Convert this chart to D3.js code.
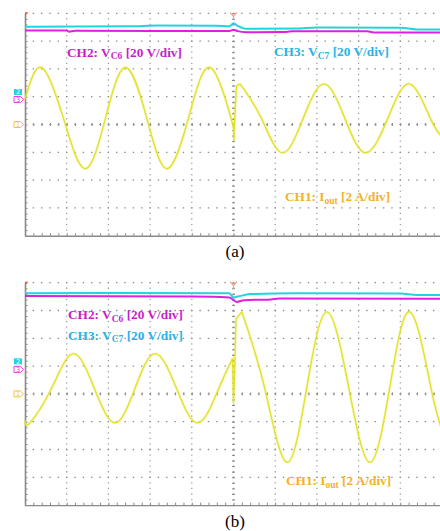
<!DOCTYPE html>
<html lang="en">
  <head>
    <meta charset="UTF-8" />
    <title>Scope captures (a) and (b)</title>
    <script src="https://d3js.org/d3.v7.min.js"></script>
    <style>
      body { margin: 0; background: #fff; }
      svg { display: block; }
      .lbl { font-family: "Liberation Serif", "Times New Roman", serif; font-weight: bold; font-size: 13.3px; }
      .cap { font-family: "Liberation Serif", "Times New Roman", serif; font-size: 17px; }
      .ax path, .ax line { stroke: #8a8a8a; }
      .ax text { display: none; }
    </style>
  </head>
  <body>
    <div id="chart"></div>
    <script>
      // all traces in scope divisions: t = 0..10 (time), v = -4..4 (centre = 0)
      // panel (a) - CH1 current, before / after the step at t = 5
      const aIoutPre = [[0, 0.92], [0.4, 2.05], [0.92, 0.23], [1.44, -1.59], [1.93, 0.23], [2.41, 2.05],
        [2.92, 0.23], [3.4, -1.59], [3.92, 0.23], [4.44, 2.05], [4.94, 0.23], [5.0, -0.05]];
      const aIoutJump = [[5.0, -0.05], [5.01, -0.58], [5.03, 0.2], [5.07, 1.38], [5.16, 1.46]];
      const aIoutPost = [[5.16, 1.46], [5.67, 0.22], [6.17, -1.02], [6.67, 0.22], [7.17, 1.46],
        [7.67, 0.22], [8.17, -1.02], [8.7, 0.22], [9.22, 1.46], [9.72, 0.22], [10, -0.45]];
      const aVc7 = [[0, 3.52], [2.5, 3.53], [3.2, 3.56], [4.6, 3.55], [4.9, 3.53], [5.0, 3.64], [5.1, 3.55],
        [5.3, 3.44], [6.5, 3.45], [7.0, 3.49], [9.0, 3.48], [9.4, 3.42], [10, 3.42]];
      const aVc6 = [[0, 3.38], [1.0, 3.38], [1.05, 3.34], [1.2, 3.37], [4.9, 3.36], [5.0, 3.41], [5.1, 3.36],
        [5.3, 3.32], [6.2, 3.33], [6.4, 3.35], [8.2, 3.35], [8.4, 3.31], [10, 3.31]];
      const aMarks = { ch2: 1.17, ch3: 0.9, ch1: 0 };

      // panel (b)
      const bIoutPre = [[0, -0.95], [0.12, -1.04], [0.64, 0.21], [1.16, 1.45], [1.66, 0.21], [2.16, -1.04],
        [2.64, 0.21], [3.12, 1.45], [3.63, 0.21], [4.15, -1.04], [4.65, 0.21], [4.98, 1.28]];
      const bIoutJump = [[4.98, 1.28], [5.0, -0.34], [5.02, 0.4], [5.06, 2.7], [5.2, 2.95]];
      const bIoutPost = [[5.2, 2.95], [5.74, 0.25], [6.28, -2.46], [6.76, 0.25], [7.24, 2.95],
        [7.76, 0.25], [8.27, -2.46], [8.75, 0.25], [9.23, 2.95], [9.73, 0.25], [10, -1.3]];
      const bVc7 = [[0, 3.62], [2.0, 3.63], [4.9, 3.62], [5.0, 3.47], [5.1, 3.5], [5.4, 3.59],
        [6.5, 3.62], [9.0, 3.61], [9.4, 3.56], [10, 3.56]];
      const bVc6 = [[0, 3.52], [4.0, 3.5], [4.9, 3.47], [5.08, 3.31], [5.25, 3.37], [5.9, 3.4],
        [6.1, 3.43], [10, 3.42]];
      const bMarks = { ch2: 1.17, ch3: 0.88, ch1: 0 };

      const W = 440, H = 531;
      const divW = 41.7, divH = 27.8;
      const colYellow = "#e2e22a", colCyan = "#22d4dc", colMag = "#e020e0";

      const svg = d3.select("#chart").append("svg").attr("width", W).attr("height", H);

      function drawPanel(top, d) {
        const x = d3.scaleLinear().domain([0, 10]).range([25, 25 + 10 * divW]);
        const y = d3.scaleLinear().domain([-4, 4]).range([top + 8 * divH, top]);
        const g = svg.append("g");

        // dotted grid
        d3.range(1, 10).forEach((i) => {
          g.append("line").attr("x1", x(i)).attr("x2", x(i)).attr("y1", y(4)).attr("y2", y(-4))
            .attr("stroke", "#9a9a9a").attr("stroke-width", 1.2)
            .attr("stroke-dasharray", `1.3 ${divH / 5 - 1.3}`).attr("stroke-dashoffset", 0.65);
        });
        d3.range(-3, 5).forEach((j) => {
          g.append("line").attr("x1", x(0)).attr("x2", x(10)).attr("y1", y(j)).attr("y2", y(j))
            .attr("stroke", "#8a8a8a").attr("stroke-width", 1.3)
            .attr("stroke-dasharray", `1.4 ${divW / 5 - 1.4}`).attr("stroke-dashoffset", -divW / 5 + 0.7);
        });

        const minor = (lo, hi) => d3.range(lo, hi + 0.001, 0.2);
        // centre cross ticks
        g.append("g").attr("class", "ax").attr("transform", `translate(0,${y(0) - 1.5})`)
          .call(d3.axisBottom(x).tickValues(minor(0, 10)).tickSize(3).tickFormat(""))
          .call((s) => s.select(".domain").remove());
        g.append("g").attr("class", "ax").attr("transform", `translate(${x(5) + 1.5},0)`)
          .call(d3.axisLeft(y).tickValues(minor(-4, 4)).tickSize(3).tickFormat(""))
          .call((s) => s.select(".domain").remove());
        // left and bottom frame with minor ticks
        g.append("g").attr("class", "ax").attr("transform", `translate(${x(0)},0)`)
          .call(d3.axisLeft(y).tickValues(minor(-4, 4)).tickSize(-2.5).tickSizeOuter(0).tickFormat(""))
          .call((s) => s.select(".domain").attr("stroke-width", 1.6));
        g.append("g").attr("class", "ax").attr("transform", `translate(0,${y(-4)})`)
          .call(d3.axisBottom(x).tickValues(minor(0, 10)).tickSize(-2.5).tickSizeOuter(0).tickFormat(""))
          .call((s) => s.select(".domain").attr("stroke-width", 1.4));

        const line = (curve) => d3.line().x((p) => x(p[0])).y((p) => y(p[1])).curve(curve);

        // voltage traces
        g.append("path").attr("d", line(d3.curveMonotoneX)(d.vc6)).attr("fill", "none")
          .attr("stroke", colMag).attr("stroke-width", 2);
        g.append("path").attr("d", line(d3.curveMonotoneX)(d.vc7)).attr("fill", "none")
          .attr("stroke", colCyan).attr("stroke-width", 2);

        // current trace
        [[d.pre, d3.curveNatural], [d.jump, d3.curveLinear], [d.post, d3.curveNatural]].forEach(([pts, c]) => {
          g.append("path").attr("d", line(c)(pts)).attr("fill", "none")
            .attr("stroke", colYellow).attr("stroke-opacity", 0.2).attr("stroke-width", 3);
          g.append("path").attr("d", line(c)(pts)).attr("fill", "none")
            .attr("stroke", colYellow).attr("stroke-width", 1.4);
        });

        // channel markers on the left
        const tag = (v, col, num, filled) => {
          const cy = y(v);
          const m = g.append("g").attr("transform", `translate(14,${cy})`);
          if (filled) {
            m.append("rect").attr("x", 0).attr("y", -3).attr("width", 8).attr("height", 6).attr("fill", col);
            m.append("text").attr("x", 4).attr("y", 2.4).attr("text-anchor", "middle").attr("font-size", 6.5)
              .attr("font-family", "DejaVu Sans").attr("fill", "#fff").text(num);
          } else {
            m.append("path").attr("d", "M0,-3H6.5L9.5,0L6.5,3H0Z").attr("fill", "none")
              .attr("stroke", col).attr("stroke-width", 1);
            m.append("text").attr("x", 4).attr("y", 2.4).attr("text-anchor", "middle").attr("font-size", 6.5)
              .attr("font-family", "DejaVu Sans").attr("fill", col).text(num);
          }
        };
        tag(d.marks.ch2, colCyan, "2", true);
        tag(d.marks.ch3, "#ea3cea", "3", false);
        tag(d.marks.ch1, "#f2c438", "1", false);

        // trigger position marker and corner mark
        g.append("path").attr("d", `M${x(5) - 3.5},${top - 1}L${x(5)},${top + 3}L${x(5) + 3.5},${top - 1}M${x(5)},${top + 3}V${top + 6}`)
          .attr("fill", "none").attr("stroke", "#f4a283").attr("stroke-width", 1.2);
        g.append("path").attr("d", `M${x(0)},${top - 1}h3.5l-3.5,3z`).attr("fill", "#f05a28");

        return { x, y };
      }

      function label(x, y, main, sub, rest, col) {
        const t = svg.append("text").attr("class", "lbl").attr("x", x).attr("y", y).attr("fill", col);
        t.append("tspan").text(main);
        t.append("tspan").attr("font-size", 9.5).attr("dy", 2.5).text(sub);
        t.append("tspan").attr("dy", -2.5).text(rest);
      }

      drawPanel(13.3, { pre: aIoutPre, jump: aIoutJump, post: aIoutPost, vc6: aVc6, vc7: aVc7, marks: aMarks });
      drawPanel(282.7, { pre: bIoutPre, jump: bIoutJump, post: bIoutPost, vc6: bVc6, vc7: bVc7, marks: bMarks });

      const magText = "#c81ec8", cyanText = "#2ab2e4", orangeText = "#f2b22a";
      label(67, 56.5, "CH2: V", "C6", " [20 V/div]", magText);
      label(274, 56, "CH3: V", "C7", " [20 V/div]", cyanText);
      label(285, 201, "CH1: I", "out", " [2 A/div]", orangeText);
      label(68, 319, "CH2: V", "C6", " [20 V/div]", magText);
      label(68, 339.5, "CH3: V", "C7", " [20 V/div]", cyanText);
      label(286, 485, "CH1: I", "out", " [2 A/div]", orangeText);

      svg.append("text").attr("class", "cap").attr("x", 235).attr("y", 257).attr("text-anchor", "middle").text("(a)");
      svg.append("text").attr("class", "cap").attr("x", 235).attr("y", 526.5).attr("text-anchor", "middle").text("(b)");
    </script>
  </body>
</html>
